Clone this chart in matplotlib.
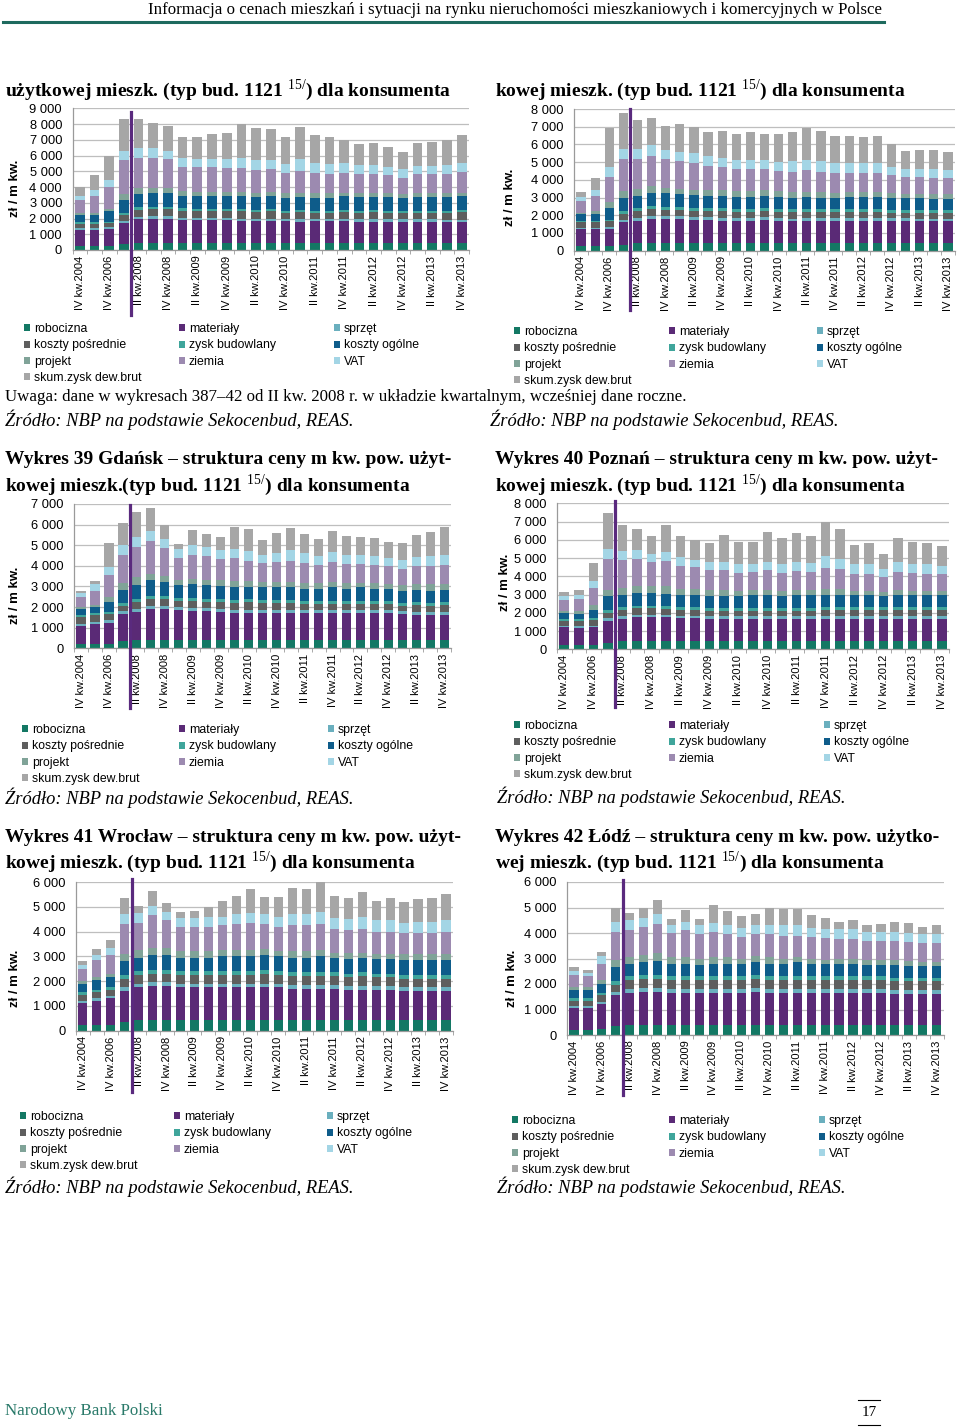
import matplotlib
matplotlib.use("Agg")
import matplotlib.pyplot as plt
from matplotlib.lines import Line2D
from matplotlib.ticker import FuncFormatter, FixedLocator

W, H = 960, 1427
plt.rcParams['font.family'] = ['Liberation Sans', 'DejaVu Sans']
plt.rcParams['mathtext.fontset'] = 'custom'
plt.rcParams['mathtext.rm'] = 'Liberation Serif'
SERIF = ['Liberation Serif', 'DejaVu Serif']

# okresy: dane roczne do 2007, potem kwartalne
okresy = ['IV kw.2004', 'IV kw.2005', 'IV kw.2006', 'IV kw.2007',
          'II kw.2008', 'III kw.2008', 'IV kw.2008',
          'I kw.2009', 'II kw.2009', 'III kw.2009', 'IV kw.2009',
          'I kw.2010', 'II kw.2010', 'III kw.2010', 'IV kw.2010',
          'I kw.2011', 'II kw.2011', 'III kw.2011', 'IV kw.2011',
          'I kw.2012', 'II kw.2012', 'III kw.2012', 'IV kw.2012',
          'I kw.2013', 'II kw.2013', 'III kw.2013', 'IV kw.2013']

skladniki = ['robocizna', 'materiały', 'sprzęt', 'koszty pośrednie', 'zysk budowlany',
             'koszty ogólne', 'projekt', 'ziemia', 'VAT', 'skum.zysk dew.brut']
kolory = ['#137864', '#5A2A76', '#6AAFBE', '#5E5E5E', '#3FA59B',
          '#0E5C8A', '#80A398', '#9C8AB0', '#A3D5E5', '#A6A6A6']

# --- wykres 37 (góra, lewy)
w37_robocizna = [250, 250, 250, 400, 450, 450, 450, 450, 450, 450, 450, 450, 450, 450, 450, 450, 450, 450, 450, 450, 450, 450, 450, 450, 450, 450, 450]
w37_materialy = [1050, 1050, 1100, 1300, 1500, 1550, 1550, 1450, 1450, 1450, 1450, 1400, 1400, 1400, 1400, 1350, 1400, 1400, 1400, 1350, 1350, 1350, 1350, 1350, 1350, 1300, 1300]
w37_sprzet = [100, 100, 100, 150, 150, 150, 150, 150, 150, 150, 150, 150, 150, 150, 150, 150, 150, 150, 150, 150, 150, 150, 150, 150, 150, 150, 150]
w37_posrednie = [250, 250, 250, 400, 450, 450, 450, 450, 400, 400, 400, 450, 400, 450, 350, 450, 350, 350, 400, 400, 450, 400, 400, 400, 400, 450, 500]
w37_zysk_bud = [100, 100, 100, 100, 150, 150, 150, 150, 150, 150, 150, 150, 150, 150, 150, 150, 150, 150, 150, 150, 150, 150, 150, 150, 150, 150, 150]
w37_ogolne = [500, 500, 650, 850, 850, 850, 850, 750, 800, 800, 800, 800, 800, 800, 800, 800, 800, 800, 850, 850, 800, 850, 800, 850, 850, 850, 850]
w37_projekt = [100, 100, 150, 350, 400, 350, 350, 350, 300, 300, 300, 300, 300, 300, 350, 300, 300, 300, 250, 250, 250, 250, 250, 250, 250, 250, 250]
w37_ziemia = [800, 1100, 1400, 2150, 1900, 1900, 1800, 1550, 1550, 1550, 1500, 1500, 1450, 1450, 1250, 1350, 1300, 1250, 1250, 1200, 1250, 1150, 1050, 1200, 1200, 1250, 1300]
w37_vat = [300, 350, 450, 600, 650, 600, 550, 550, 500, 550, 600, 650, 600, 550, 550, 750, 600, 600, 600, 600, 550, 550, 550, 550, 550, 550, 600]
w37_skum = [550, 950, 1550, 2050, 1850, 1600, 1550, 1350, 1450, 1550, 1650, 2150, 2050, 2000, 1750, 2050, 1800, 1750, 1500, 1350, 1400, 1250, 1100, 1450, 1500, 1600, 1750]

# --- wykres 38 (góra, prawy)
w38_robocizna = [250, 250, 250, 350, 420, 420, 420, 420, 420, 420, 420, 420, 420, 420, 420, 420, 420, 420, 420, 420, 420, 420, 420, 420, 420, 420, 420]
w38_materialy = [950, 950, 1000, 1250, 1280, 1380, 1380, 1380, 1330, 1330, 1280, 1280, 1280, 1330, 1280, 1230, 1280, 1280, 1280, 1280, 1280, 1280, 1280, 1280, 1230, 1230, 1230]
w38_sprzet = [100, 100, 100, 150, 150, 150, 150, 150, 150, 150, 150, 150, 150, 150, 150, 150, 150, 150, 150, 150, 150, 150, 150, 150, 150, 150, 150]
w38_posrednie = [300, 300, 300, 350, 400, 400, 350, 350, 350, 350, 400, 350, 350, 350, 350, 400, 350, 350, 350, 350, 350, 350, 300, 300, 350, 350, 350]
w38_zysk_bud = [100, 100, 100, 150, 150, 150, 150, 150, 150, 150, 150, 150, 150, 150, 150, 150, 150, 150, 150, 150, 150, 150, 150, 150, 150, 150, 150]
w38_ogolne = [350, 400, 650, 750, 700, 750, 800, 750, 750, 700, 700, 700, 700, 700, 700, 650, 700, 650, 650, 700, 700, 700, 700, 650, 650, 600, 600]
w38_projekt = [100, 150, 350, 350, 400, 400, 300, 300, 300, 300, 300, 300, 300, 300, 300, 300, 250, 300, 250, 250, 250, 250, 250, 250, 250, 300, 300]
w38_ziemia = [650, 850, 1400, 1800, 1650, 1700, 1600, 1550, 1500, 1400, 1350, 1250, 1250, 1200, 1150, 1150, 1250, 1150, 1150, 1100, 1100, 1100, 1000, 950, 950, 900, 900]
w38_vat = [250, 300, 550, 600, 600, 600, 550, 500, 550, 550, 500, 500, 500, 500, 500, 600, 550, 600, 550, 550, 550, 550, 500, 450, 450, 500, 450]
w38_skum = [250, 700, 2250, 2050, 1630, 1570, 1350, 1580, 1500, 1350, 1500, 1470, 1620, 1500, 1600, 1650, 1800, 1700, 1550, 1500, 1450, 1550, 1250, 1050, 1100, 1100, 1050]

# --- wykres 39 Gdańsk
w39_robocizna = [200, 200, 200, 350, 400, 400, 400, 400, 400, 400, 400, 400, 400, 400, 400, 400, 400, 400, 400, 400, 400, 400, 400, 400, 400, 400, 400]
w39_materialy = [900, 1000, 1050, 1300, 1350, 1500, 1500, 1450, 1400, 1400, 1350, 1300, 1300, 1300, 1300, 1300, 1300, 1300, 1300, 1300, 1300, 1300, 1300, 1250, 1200, 1200, 1200]
w39_sprzet = [100, 100, 100, 150, 150, 150, 150, 150, 150, 150, 150, 150, 150, 150, 150, 150, 150, 150, 150, 150, 150, 150, 150, 150, 150, 150, 150]
w39_posrednie = [300, 300, 300, 250, 350, 350, 350, 300, 350, 300, 350, 350, 400, 350, 350, 350, 300, 300, 300, 300, 300, 300, 300, 250, 350, 300, 350]
w39_zysk_bud = [100, 100, 100, 150, 150, 150, 150, 150, 150, 150, 150, 150, 150, 150, 150, 150, 150, 150, 150, 150, 150, 150, 150, 150, 150, 150, 150]
w39_ogolne = [300, 300, 500, 650, 650, 750, 650, 600, 650, 650, 600, 600, 550, 600, 600, 600, 600, 600, 650, 600, 650, 600, 600, 600, 600, 600, 600]
w39_projekt = [100, 100, 250, 300, 400, 300, 300, 250, 250, 250, 300, 300, 300, 250, 250, 250, 250, 250, 250, 250, 200, 250, 200, 250, 250, 300, 250]
w39_ziemia = [500, 700, 1050, 1400, 1450, 1600, 1350, 1100, 1200, 1200, 1050, 1150, 1000, 950, 1000, 1050, 1000, 900, 1000, 950, 950, 900, 900, 800, 900, 900, 950]
w39_vat = [200, 300, 400, 450, 500, 500, 450, 400, 450, 400, 400, 400, 450, 400, 400, 500, 450, 450, 450, 450, 450, 450, 400, 450, 450, 500, 500]
w39_skum = [100, 150, 1150, 1100, 1200, 1100, 700, 250, 750, 650, 650, 1100, 1100, 700, 1000, 1100, 950, 800, 1050, 900, 850, 850, 750, 800, 1050, 1150, 1350]

# --- wykres 40 Poznań
w40_robocizna = [250, 250, 250, 350, 450, 450, 450, 450, 450, 450, 450, 450, 450, 450, 450, 450, 450, 450, 450, 450, 450, 450, 450, 450, 450, 450, 450]
w40_materialy = [950, 900, 950, 1200, 1200, 1300, 1300, 1300, 1250, 1250, 1200, 1200, 1200, 1200, 1200, 1200, 1200, 1200, 1200, 1200, 1200, 1200, 1200, 1200, 1200, 1200, 1200]
w40_sprzet = [100, 100, 100, 150, 150, 150, 150, 150, 150, 150, 150, 150, 150, 150, 150, 150, 150, 150, 150, 150, 150, 150, 150, 150, 150, 150, 150]
w40_posrednie = [250, 300, 300, 300, 350, 350, 350, 300, 300, 300, 300, 300, 300, 300, 300, 300, 300, 300, 350, 350, 350, 350, 350, 350, 350, 350, 350]
w40_zysk_bud = [100, 100, 100, 150, 150, 150, 150, 150, 150, 150, 150, 150, 150, 150, 150, 150, 150, 150, 150, 150, 150, 150, 150, 150, 150, 150, 150]
w40_ogolne = [350, 300, 450, 750, 700, 700, 700, 700, 700, 650, 650, 650, 650, 700, 700, 650, 700, 700, 700, 700, 650, 650, 600, 700, 650, 650, 650]
w40_projekt = [100, 150, 300, 350, 350, 350, 350, 400, 300, 350, 350, 350, 300, 300, 300, 300, 300, 300, 300, 300, 250, 250, 250, 250, 250, 250, 250]
w40_ziemia = [600, 650, 900, 1700, 1550, 1500, 1350, 1400, 1250, 1200, 1100, 1100, 1000, 1000, 1100, 1000, 1050, 1000, 1150, 1100, 950, 950, 800, 1000, 1000, 950, 900]
w40_vat = [200, 250, 400, 550, 500, 500, 400, 500, 500, 400, 450, 450, 450, 450, 450, 500, 500, 500, 650, 550, 500, 500, 450, 550, 450, 500, 450]
w40_skum = [250, 250, 1000, 1950, 1400, 1150, 1000, 1450, 1150, 1100, 1050, 1450, 1250, 1200, 1650, 1400, 1550, 1450, 1900, 1650, 1050, 1150, 800, 1300, 1250, 1150, 1100]

# --- wykres 41 Wrocław
w41_robocizna = [250, 250, 250, 350, 450, 450, 450, 450, 450, 450, 450, 450, 450, 450, 450, 450, 450, 450, 450, 450, 450, 450, 450, 450, 450, 450, 450]
w41_materialy = [850, 950, 1050, 1250, 1300, 1350, 1350, 1300, 1300, 1300, 1300, 1300, 1300, 1300, 1300, 1250, 1250, 1250, 1250, 1200, 1200, 1200, 1200, 1150, 1150, 1150, 1150]
w41_sprzet = [100, 100, 100, 150, 150, 150, 150, 150, 150, 150, 150, 150, 150, 150, 150, 150, 150, 150, 150, 150, 150, 150, 150, 150, 150, 150, 150]
w41_posrednie = [250, 250, 250, 350, 350, 350, 350, 350, 350, 350, 350, 350, 350, 400, 350, 350, 350, 350, 350, 350, 400, 350, 350, 350, 350, 350, 350]
w41_zysk_bud = [100, 100, 100, 150, 150, 150, 150, 150, 150, 150, 150, 150, 150, 150, 150, 150, 150, 150, 150, 150, 150, 150, 150, 150, 150, 150, 150]
w41_ogolne = [350, 400, 400, 550, 550, 600, 600, 550, 550, 550, 600, 600, 600, 600, 600, 600, 600, 650, 600, 600, 600, 600, 600, 600, 600, 600, 600]
w41_projekt = [100, 100, 150, 300, 300, 300, 300, 250, 250, 250, 250, 250, 250, 250, 200, 250, 250, 250, 200, 250, 200, 200, 200, 250, 250, 250, 250]
w41_ziemia = [500, 700, 750, 1200, 1100, 1300, 1100, 1000, 1000, 1000, 1000, 1050, 1100, 1000, 1000, 1050, 1050, 1050, 950, 900, 950, 900, 900, 850, 850, 850, 900]
w41_vat = [150, 200, 300, 400, 400, 400, 350, 350, 350, 400, 350, 400, 400, 400, 400, 450, 450, 500, 450, 450, 500, 450, 450, 400, 450, 450, 450]
w41_skum = [150, 250, 300, 650, 300, 600, 350, 250, 300, 400, 650, 750, 950, 700, 800, 1050, 1000, 1200, 900, 850, 1000, 800, 900, 850, 900, 950, 1050]

# --- wykres 42 Łódź
w42_robocizna = [200, 200, 250, 350, 400, 400, 400, 400, 400, 400, 400, 400, 400, 400, 400, 400, 400, 400, 400, 400, 400, 400, 400, 400, 400, 400, 400]
w42_materialy = [850, 850, 950, 1200, 1250, 1300, 1300, 1250, 1250, 1250, 1250, 1250, 1250, 1300, 1250, 1250, 1250, 1250, 1250, 1250, 1250, 1250, 1250, 1200, 1200, 1200, 1200]
w42_sprzet = [100, 100, 100, 150, 150, 150, 150, 150, 150, 150, 150, 150, 150, 150, 150, 150, 150, 150, 150, 150, 150, 150, 150, 150, 150, 150, 150]
w42_posrednie = [200, 200, 250, 250, 350, 350, 350, 350, 350, 350, 350, 350, 350, 350, 350, 350, 350, 350, 350, 350, 350, 350, 350, 350, 350, 350, 350]
w42_zysk_bud = [100, 100, 100, 150, 150, 150, 150, 150, 150, 150, 150, 150, 150, 150, 150, 150, 150, 150, 150, 150, 150, 150, 150, 150, 150, 150, 150]
w42_ogolne = [300, 300, 350, 550, 500, 500, 550, 500, 500, 450, 500, 500, 500, 500, 500, 500, 550, 500, 500, 500, 500, 450, 450, 500, 450, 450, 450]
w42_projekt = [150, 150, 150, 300, 250, 300, 300, 250, 250, 250, 250, 250, 200, 250, 250, 200, 200, 200, 150, 200, 200, 200, 200, 200, 200, 150, 150]
w42_ziemia = [450, 400, 650, 1100, 1050, 1100, 1150, 950, 1050, 950, 1000, 900, 850, 850, 900, 900, 850, 850, 850, 750, 750, 750, 750, 750, 750, 750, 750]
w42_vat = [150, 150, 300, 400, 400, 350, 400, 300, 350, 350, 350, 350, 350, 350, 350, 400, 400, 350, 350, 400, 400, 350, 350, 350, 350, 350, 350]
w42_skum = [150, 100, 150, 550, 300, 400, 550, 250, 450, 250, 700, 550, 450, 450, 700, 650, 650, 500, 450, 300, 350, 250, 300, 400, 400, 300, 350]

TYP = '(typ bud. 1121 $^{\\mathrm{15/}}$) dla konsumenta'

wykresy = [
    dict(serie=[w37_robocizna, w37_materialy, w37_sprzet, w37_posrednie, w37_zysk_bud,
                w37_ogolne, w37_projekt, w37_ziemia, w37_vat, w37_skum],
         ymax=9000, box=(72.5, 469, 108.3, 250), linia=(112, 315), ylab=(15, 188),
         leg_x=(32, 187, 342), leg_y=327, tytul=['użytkowej mieszk. ' + TYP], tyt_x=5, tyt_y=90),
    dict(serie=[w38_robocizna, w38_materialy, w38_sprzet, w38_posrednie, w38_zysk_bud,
                w38_ogolne, w38_projekt, w38_ziemia, w38_vat, w38_skum],
         ymax=8000, box=(574, 955, 109, 250.7), linia=(109, 310), ylab=(510, 197),
         leg_x=(522, 677, 825), leg_y=330, tytul=['kowej mieszk. ' + TYP], tyt_x=495, tyt_y=90),
    dict(serie=[w39_robocizna, w39_materialy, w39_sprzet, w39_posrednie, w39_zysk_bud,
                w39_ogolne, w39_projekt, w39_ziemia, w39_vat, w39_skum],
         ymax=7000, box=(74, 451.3, 504, 648.3), linia=(505, 708), ylab=(15, 595),
         leg_x=(30, 187, 336), leg_y=728,
         tytul=['Wykres 39 Gdańsk \u2013 struktura ceny m kw. pow. użyt-',
                'kowej mieszk.' + TYP], tyt_x=5, tyt_y=460),
    dict(serie=[w40_robocizna, w40_materialy, w40_sprzet, w40_posrednie, w40_zysk_bud,
                w40_ogolne, w40_projekt, w40_ziemia, w40_vat, w40_skum],
         ymax=8000, box=(557, 949, 503.3, 649.3), linia=(501, 707), ylab=(505, 582),
         leg_x=(522, 677, 832), leg_y=724,
         tytul=['Wykres 40 Poznań \u2013 struktura ceny m kw. pow. użyt-',
                'kowej mieszk. ' + TYP], tyt_x=495, tyt_y=460),
    dict(serie=[w41_robocizna, w41_materialy, w41_sprzet, w41_posrednie, w41_zysk_bud,
                w41_ogolne, w41_projekt, w41_ziemia, w41_vat, w41_skum],
         ymax=6000, box=(75.7, 453, 882, 1030.7), linia=(879, 1092), ylab=(15, 978),
         leg_x=(28, 182, 335), leg_y=1115,
         tytul=['Wykres 41 Wrocław \u2013 struktura ceny m kw. pow. użyt-',
                'kowej mieszk. ' + TYP], tyt_x=5, tyt_y=837),
    dict(serie=[w42_robocizna, w42_materialy, w42_sprzet, w42_posrednie, w42_zysk_bud,
                w42_ogolne, w42_projekt, w42_ziemia, w42_vat, w42_skum],
         ymax=6000, box=(567, 943.7, 882, 1035), linia=(880, 1095), ylab=(512, 978),
         leg_x=(520, 677, 827), leg_y=1119,
         tytul=['Wykres 42 Łódź \u2013 struktura ceny m kw. pow. użytko-',
                'wej mieszk. ' + TYP], tyt_x=495, tyt_y=837),
]

fig = plt.figure(figsize=(W / 100, H / 100), dpi=100)


def fx(x):
    return x / W


def fy(y):
    return 1 - y / H


def tysiace(v, pos):
    return f"{int(v):,}".replace(",", " ")


# kolejność w legendzie: kolumny
kolumny_leg = [[0, 3, 6, 9], [1, 4, 7], [2, 5, 8]]

for wk in wykresy:
    left, right, top, bottom = wk['box']
    ax = fig.add_axes([fx(left), fy(bottom), (right - left) / W, (bottom - top) / H])
    x = list(range(len(okresy)))
    dol = [0] * len(okresy)
    uchwyty = []
    for nazwa, kol, wart in zip(skladniki, kolory, wk['serie']):
        b = ax.bar(x, wart, bottom=dol, width=0.66, color=kol, edgecolor='none', label=nazwa, zorder=2)
        uchwyty.append(b)
        dol = [d + v for d, v in zip(dol, wart)]
    ax.set_xlim(-0.5, len(okresy) - 0.5)
    ax.set_ylim(0, wk['ymax'])
    ax.yaxis.set_major_locator(FixedLocator(list(range(0, wk['ymax'] + 1, 1000))))
    ax.yaxis.set_major_formatter(FuncFormatter(tysiace))
    ax.yaxis.grid(True, color='#BEBEBE', lw=0.9, zorder=0)
    ax.set_axisbelow(True)
    ax.tick_params(axis='y', length=0, labelsize=9.3, pad=7.5, colors='black')
    ax.set_xticks(x[::2])
    ax.set_xticklabels(okresy[::2], rotation=90, fontsize=8)
    ax.set_xticks([i - 0.5 for i in range(len(okresy) + 1)], minor=True)
    ax.tick_params(axis='x', which='major', length=0, pad=4)
    ax.tick_params(axis='x', which='minor', length=3, color='#9A9A9A')
    for s in ['top', 'right']:
        ax.spines[s].set_visible(False)
    for s in ['left', 'bottom']:
        ax.spines[s].set_color('#9A9A9A')
        ax.spines[s].set_linewidth(0.9)
    # linia oddzielająca dane roczne od kwartalnych
    y_top, y_bot = wk['linia']
    ax.plot([3.5, 3.5], [(bottom - y_bot) / (bottom - top), (bottom - y_top) / (bottom - top)],
            transform=ax.get_xaxis_transform(), color='#5A2A7E', lw=2.3, clip_on=False, zorder=5)
    fig.text(fx(wk['ylab'][0]), fy(wk['ylab'][1]), 'zł / m kw.', rotation=90, ha='center',
             va='center', fontsize=9.5, fontweight='bold')
    # legenda w trzech kolumnach
    for ci, idxs in enumerate(kolumny_leg):
        leg = ax.legend([uchwyty[i] for i in idxs], [skladniki[i] for i in idxs],
                        loc='upper left', bbox_to_anchor=(fx(wk['leg_x'][ci] - 8), fy(wk['leg_y'] - 4)),
                        bbox_transform=fig.transFigure, frameon=False, fontsize=8.8,
                        handlelength=0.5, handleheight=0.5, handletextpad=0.3,
                        borderpad=0, borderaxespad=0, labelspacing=0.36)
        if ci < 2:
            ax.add_artist(leg)
    for li, linia in enumerate(wk['tytul']):
        fig.text(fx(wk['tyt_x']), fy(wk['tyt_y'] + li * 25), linia, ha='left', va='center',
                 family=SERIF, fontweight='bold', fontsize=14)

# nagłówek i stopka strony
fig.text(fx(515), fy(10), 'Informacja o cenach mieszkań i sytuacji na rynku nieruchomości '
         'mieszkaniowych i komercyjnych w Polsce', ha='center', va='center', family=SERIF, fontsize=12.2)
fig.add_artist(Line2D([fx(3), fx(884)], [fy(22), fy(22)], color='#1E6A5E', lw=2.2))
fig.text(fx(5), fy(397), 'Uwaga: dane w wykresach 387\u201342 od II kw. 2008 r. w układzie kwartalnym, '
         'wcześniej dane roczne.', ha='left', va='center', family=SERIF, fontsize=12.2)
for zx, zy in [(5, 420), (490, 420), (5, 798), (497, 797), (5, 1187), (497, 1187)]:
    fig.text(fx(zx), fy(zy), 'Źródło: NBP na podstawie Sekocenbud, REAS.', ha='left', va='center',
             family=SERIF, style='italic', fontsize=13.3)
fig.text(fx(5), fy(1411), 'Narodowy Bank Polski', ha='left', va='center', family=SERIF,
         fontsize=12.2, color='#2A7A6A')
fig.text(fx(869), fy(1413), '17', ha='center', va='center', family=SERIF, fontsize=11)
fig.add_artist(Line2D([fx(858), fx(880)], [fy(1400), fy(1400)], color='black', lw=0.8))
fig.add_artist(Line2D([fx(858), fx(880)], [fy(1425), fy(1425)], color='black', lw=0.8))

fig.savefig('out.png', dpi=100)
